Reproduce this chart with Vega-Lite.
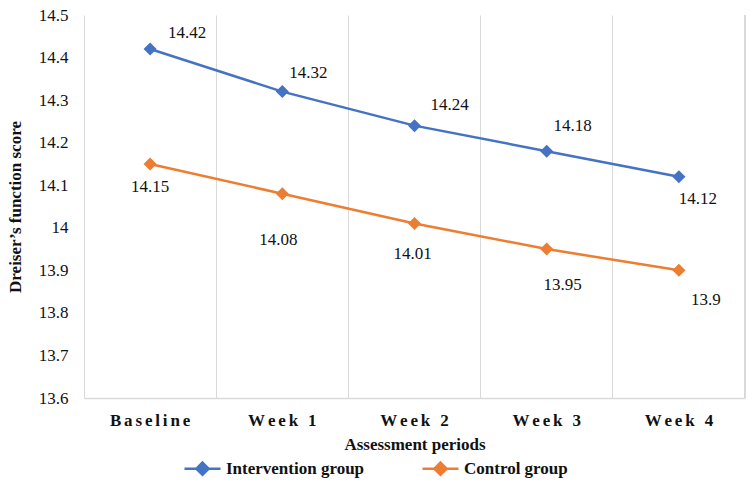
{
  "$schema": "https://vega.github.io/schema/vega-lite/v6.json",
  "autosize": "none",
  "width": 661,
  "height": 383,
  "padding": {"left": 84, "top": 15, "right": 5, "bottom": 89},
  "background": "white",
  "config": {
    "view": {"stroke": null},
    "font": "Liberation Serif"
  },
  "data": {
    "values": [
      {"period": "Baseline", "group": "Intervention group", "score": 14.42},
      {"period": "Week 1", "group": "Intervention group", "score": 14.32},
      {"period": "Week 2", "group": "Intervention group", "score": 14.24},
      {"period": "Week 3", "group": "Intervention group", "score": 14.18},
      {"period": "Week 4", "group": "Intervention group", "score": 14.12},
      {"period": "Baseline", "group": "Control group", "score": 14.15},
      {"period": "Week 1", "group": "Control group", "score": 14.08},
      {"period": "Week 2", "group": "Control group", "score": 14.01},
      {"period": "Week 3", "group": "Control group", "score": 13.95},
      {"period": "Week 4", "group": "Control group", "score": 13.9}
    ]
  },
  "encoding": {
    "x": {
      "field": "period",
      "type": "nominal",
      "sort": ["Baseline", "Week 1", "Week 2", "Week 3", "Week 4"],
      "scale": {"type": "band", "paddingInner": 0, "paddingOuter": 0},
      "axis": {
        "title": "Assessment periods",
        "titleFont": "Liberation Serif",
        "titleFontSize": 17,
        "titleFontWeight": "bold",
        "titleColor": "#111",
        "titlePadding": 8,
        "labelFont": "Liberation Serif",
        "labelFontSize": 17,
        "labelFontWeight": "bold",
        "labelColor": "#111",
        "labelPadding": 14,
        "labelAngle": 0,
        "labelExpr": "join(split(datum.label, ''), '\u200a\u200a')",
        "ticks": false,
        "bandPosition": 0,
        "grid": true,
        "gridColor": "#d9d9d9",
        "gridWidth": 1,
        "domainColor": "#d9d9d9",
        "domainWidth": 1.5
      }
    },
    "y": {
      "field": "score",
      "type": "quantitative",
      "scale": {"domain": [13.6, 14.5], "nice": false, "zero": false},
      "axis": {
        "title": "Dreiser’s function score",
        "titleFont": "Liberation Serif",
        "titleFontSize": 17,
        "titleFontWeight": "bold",
        "titleColor": "#111",
        "titlePadding": 14,
        "values": [13.6, 13.7, 13.8, 13.9, 14.0, 14.1, 14.2, 14.3, 14.4, 14.5],
        "format": "~g",
        "labelFont": "Liberation Serif",
        "labelFontSize": 17,
        "labelColor": "#111",
        "labelPadding": 16,
        "ticks": false,
        "domain": false,
        "grid": false
      }
    }
  },
  "layer": [
    {
      "mark": {"type": "rule", "color": "#d9d9d9", "strokeWidth": 1},
      "encoding": {
        "x": {"datum": "Week 4", "bandPosition": 1},
        "y": null
      }
    },
    {
      "mark": {
        "type": "line",
        "strokeWidth": 2.5,
        "point": {"shape": "diamond", "size": 170, "filled": true}
      },
      "encoding": {
        "color": {
          "field": "group",
          "type": "nominal",
          "sort": ["Intervention group", "Control group"],
          "scale": {"domain": ["Intervention group", "Control group"], "range": ["#4472C4", "#ED7D31"]},
          "legend": {
            "title": null,
            "orient": "none",
            "direction": "horizontal",
            "legendX": 99,
            "legendY": 434,
            "symbolType": "M-1,0H1M0,-0.34L0.34,0L0,0.34L-0.34,0Z",
            "symbolSize": 1296,
            "symbolStrokeWidth": 2.5,
            "labelFont": "Liberation Serif",
            "labelFontSize": 17,
            "labelFontWeight": "bold",
            "labelColor": "#111",
            "labelOffset": 4,
            "columnPadding": 52,
            "labelLimit": 300,
            "encode": {
              "symbols": {
                "update": {
                  "fill": {"scale": "color", "field": "value"},
                  "stroke": {"scale": "color", "field": "value"}
                }
              }
            }
          }
        }
      }
    },
    {
      "transform": [{"filter": "datum.group == 'Intervention group' && datum.period == 'Baseline'"}],
      "mark": {"type": "text", "font": "Liberation Serif", "fontSize": 17, "color": "#111", "dx": 37, "dy": -16},
      "encoding": {"text": {"field": "score", "type": "quantitative"}}
    },
    {
      "transform": [{"filter": "datum.group == 'Intervention group' && datum.period == 'Week 1'"}],
      "mark": {"type": "text", "font": "Liberation Serif", "fontSize": 17, "color": "#111", "dx": 26, "dy": -19},
      "encoding": {"text": {"field": "score", "type": "quantitative"}}
    },
    {
      "transform": [{"filter": "datum.group == 'Intervention group' && datum.period == 'Week 2'"}],
      "mark": {"type": "text", "font": "Liberation Serif", "fontSize": 17, "color": "#111", "dx": 35, "dy": -21},
      "encoding": {"text": {"field": "score", "type": "quantitative"}}
    },
    {
      "transform": [{"filter": "datum.group == 'Intervention group' && datum.period == 'Week 3'"}],
      "mark": {"type": "text", "font": "Liberation Serif", "fontSize": 17, "color": "#111", "dx": 26, "dy": -25},
      "encoding": {"text": {"field": "score", "type": "quantitative"}}
    },
    {
      "transform": [{"filter": "datum.group == 'Intervention group' && datum.period == 'Week 4'"}],
      "mark": {"type": "text", "font": "Liberation Serif", "fontSize": 17, "color": "#111", "dx": 19, "dy": 22},
      "encoding": {"text": {"field": "score", "type": "quantitative"}}
    },
    {
      "transform": [{"filter": "datum.group == 'Control group' && datum.period == 'Baseline'"}],
      "mark": {"type": "text", "font": "Liberation Serif", "fontSize": 17, "color": "#111", "dx": 0, "dy": 23},
      "encoding": {"text": {"field": "score", "type": "quantitative"}}
    },
    {
      "transform": [{"filter": "datum.group == 'Control group' && datum.period == 'Week 1'"}],
      "mark": {"type": "text", "font": "Liberation Serif", "fontSize": 17, "color": "#111", "dx": -4, "dy": 46},
      "encoding": {"text": {"field": "score", "type": "quantitative"}}
    },
    {
      "transform": [{"filter": "datum.group == 'Control group' && datum.period == 'Week 2'"}],
      "mark": {"type": "text", "font": "Liberation Serif", "fontSize": 17, "color": "#111", "dx": -2, "dy": 30},
      "encoding": {"text": {"field": "score", "type": "quantitative"}}
    },
    {
      "transform": [{"filter": "datum.group == 'Control group' && datum.period == 'Week 3'"}],
      "mark": {"type": "text", "font": "Liberation Serif", "fontSize": 17, "color": "#111", "dx": 16, "dy": 36},
      "encoding": {"text": {"field": "score", "type": "quantitative"}}
    },
    {
      "transform": [{"filter": "datum.group == 'Control group' && datum.period == 'Week 4'"}],
      "mark": {"type": "text", "font": "Liberation Serif", "fontSize": 17, "color": "#111", "dx": 27, "dy": 30},
      "encoding": {"text": {"field": "score", "type": "quantitative"}}
    }
  ]
}
